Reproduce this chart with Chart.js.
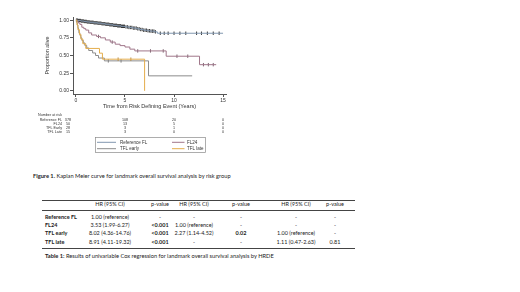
<!DOCTYPE html>
<html><head><meta charset="utf-8">
<script src="https://cdn.jsdelivr.net/npm/chart.js@4"></script>
<style>
html,body{margin:0;padding:0;background:#fff;width:520px;height:292px;overflow:hidden;}
#wrap{position:absolute;left:0;top:0;width:260px;height:160px;}
.t{position:absolute;white-space:nowrap;font-family:Lato,'Liberation Sans',sans-serif;color:#222;line-height:1;font-size:5.7px;}
.cell{font-size:5.5px;}
.c{transform:translate(-50%,-50%);}
.l{transform:translate(0,-50%);}
.rule{position:absolute;left:42px;width:313px;height:0;border-top:1px solid #444;}
b{font-weight:700;}
</style></head>
<body>
<div id="wrap"><canvas id="km" width="260" height="160"></canvas></div>
<div id="doc"></div>
<script>
// ---- Kaplan-Meier data (time in years, survival proportion) ----
const refT  = [0,0.2,0.5,0.8,1.1,1.4,1.8,2.2,2.6,3.0,3.4,3.8,4.2,4.6,5.0,5.4,5.8,6.2,6.5,6.9,7.3,7.6,8.0,8.3,15.0];
const refS  = [1,0.995,0.988,0.982,0.975,0.97,0.963,0.957,0.95,0.942,0.935,0.927,0.92,0.913,0.905,0.897,0.888,0.878,0.868,0.858,0.85,0.845,0.835,0.815,0.815];
const fl24T = [0,0.1,0.25,0.4,0.6,0.8,1.0,1.3,1.6,2.1,2.5,3.0,3.5,4.0,4.5,5.0,5.5,6.0,9.2,12.6,14.3];
const fl24S = [1,0.98,0.96,0.94,0.90,0.88,0.86,0.82,0.79,0.77,0.75,0.72,0.69,0.66,0.64,0.62,0.59,0.565,0.49,0.37,0.37];
const earlyT = [0,0.08,0.15,0.2,0.25,0.3,0.4,0.5,0.6,0.75,0.9,1.1,1.3,1.7,2.0,2.3,2.9,7.4,11.85];
const earlyS = [1,0.964,0.929,0.893,0.857,0.821,0.786,0.75,0.714,0.679,0.643,0.607,0.571,0.536,0.5,0.464,0.424,0.212,0.212];
const lateT = [0,0.1,0.2,0.35,0.5,0.7,1.0,2.4,2.7,7.0];
const lateS = [1,0.933,0.867,0.8,0.733,0.667,0.6,0.533,0.448,0];
// censoring times
const refCens = [0.05,0.15,0.25,0.35,0.45,0.55,0.65,0.75,0.85,0.95,1.05,1.15,1.25,1.35,1.45,1.55,1.65,1.75,1.85,1.95,2.05,2.15,2.25,2.35,2.45,2.55,2.65,2.75,2.85,2.95,3.05,3.15,3.25,3.35,3.45,3.55,3.65,3.75,3.85,3.95,4.05,4.15,4.25,4.35,4.45,4.55,4.65,4.75,4.85,4.95,5.1,5.25,5.4,5.55,5.7,5.85,6.0,6.15,6.3,6.45,6.6,6.75,6.9,7.05,7.2,7.35,7.5,7.65,7.8,7.95,8.1,8.6,9.0,9.4,10.0,10.6,11.2,12.3,12.8,13.4,14.0,14.6];
const fl24Cens = [2.3,3.7,6.3,7.6,8.9,10.3,11.4,13.0,13.5,14.0];
const earlyCens = [3.3,4.6];
const lateCens = [4.3,5.6];
// axis ticks
const xTicks = [0,5,10,15];
const yTicks = [0,0.25,0.5,0.75,1];
// number at risk
const riskTimes = [0,5,10,15];
const riskLabels = ['Reference FL','FL24','TFL Early','TFL Late'];
const riskRef = [378,108,20,0];
const riskFL24 = [50,13,5,0];
const riskEarly = [28,3,1,0];
const riskLate = [15,3,0,0];
// legend / series
const seriesNames = ['Reference FL','FL24','TFL early','TFL late'];
const seriesColors = ['#8197b0','#a0768a','#8c8c8c','#e4ad4c'];

// ---- Table data ----
const tblRows = ['Reference FL','FL24','TFL early','TFL late'];
const tblHeaders = ['HR (95% CI)','p-value','HR (95% CI)','p-value','HR (95% CI)','p-value'];
const hr1 = ['1.00 (reference)','3.53 (1.99-6.27)','8.02 (4.36-14.76)','8.91 (4.11-19.32)'];
const p1  = ['-','<0.001','<0.001','<0.001'];
const hr2 = ['-','1.00 (reference)','2.27 (1.14-4.52)','-'];
const p2  = ['-','-','0.02','-'];
const hr3 = ['-','-','1.00 (reference)','1.11 (0.47-2.63)'];
const p3  = ['-','-','-','0.81'];

function pts(T,S){return T.map((t,i)=>({x:t,y:S[i]}));}
function survAt(T,S,t){let v=S[0];for(let i=0;i<T.length;i++){if(T[i]<=t)v=S[i];}return v;}
function cens(T,S,C){return C.map(t=>({x:t,y:survAt(T,S,t)}));}

const curves = [[refT,refS,refCens],[fl24T,fl24S,fl24Cens],[earlyT,earlyS,earlyCens],[lateT,lateS,lateCens]];
const datasets = [];
curves.forEach((c,i)=>{
  datasets.push({label:seriesNames[i],data:pts(c[0],c[1]),borderColor:seriesColors[i],borderWidth:1,stepped:true,pointRadius:0,fill:false,order:4-i});
});
const censColors = ['#1a1a1a','#6e5562','#666','#b08030'];
curves.forEach((c,i)=>{
  datasets.push({label:seriesNames[i]+' censored',data:cens(c[0],c[1],c[2]),showLine:false,pointStyle:'line',rotation:90,pointRadius:1.7,pointBorderWidth:0.9,borderColor:censColors[i],backgroundColor:censColors[i],order:4-i});
});

const AX='#555';
const overlay={
  id:'overlay',
  afterDraw(chart){
    const ctx=chart.ctx,xs=chart.scales.x;
    ctx.save();
    ctx.fillStyle='#333';
    ctx.textBaseline='middle';
    ctx.font='3.7px "Liberation Sans"';
    ctx.textAlign='left';
    ctx.fillText('Number at risk',38,115);
    const counts=[riskRef,riskFL24,riskEarly,riskLate];
    riskLabels.forEach((g,i)=>{
      const y=119.5+i*4;
      ctx.textAlign='right';ctx.fillText(g,62,y);
      ctx.textAlign='center';
      riskTimes.forEach((t,j)=>ctx.fillText(String(counts[i][j]),xs.getPixelForValue(t)-(t===0?8:0),y));
    });
    // legend
    ctx.strokeStyle='#8a8a8a';ctx.lineWidth=0.7;
    ctx.strokeRect(95.5,137.5,110,15);
    const pos=[[97,116,120,142.3],[172,184.5,187,142.3],[97,116,120,148.7],[172,184.5,187,148.7]];
    ctx.font='4.5px "Liberation Sans"';ctx.textAlign='left';
    seriesNames.forEach((n,i)=>{
      const p=pos[i];
      ctx.strokeStyle=seriesColors[i];ctx.lineWidth=1;
      ctx.beginPath();ctx.moveTo(p[0],p[3]);ctx.lineTo(p[1],p[3]);ctx.stroke();
      ctx.fillStyle='#333';ctx.fillText(n,p[2],p[3]);
    });
    ctx.restore();
  }
};

new Chart(document.getElementById('km'),{
  type:'line',
  data:{datasets},
  plugins:[overlay],
  options:{
    responsive:false,animation:false,devicePixelRatio:1,
    layout:{padding:{left:0,right:34,top:17,bottom:46}},
    plugins:{legend:{display:false},tooltip:{enabled:false}},
    scales:{
      x:{type:'linear',min:-0.3,max:15.3,
        afterBuildTicks:s=>{s.ticks=xTicks.map(v=>({value:v}));},
        afterFit:s=>{s.height=20;},
        grid:{drawOnChartArea:false,drawTicks:true,tickLength:3,color:AX},
        border:{display:true,color:AX,width:1},
        ticks:{padding:0.5,color:'#333',font:{family:'Liberation Sans',size:5},maxRotation:0},
        title:{display:true,text:'Time from Risk Defining Event (Years)',color:'#333',font:{family:'Liberation Sans',size:5.5},padding:{top:0,bottom:4.5}}
      },
      y:{type:'linear',min:-0.045,max:1.045,
        afterBuildTicks:s=>{s.ticks=yTicks.map(v=>({value:v}));},
        afterFit:s=>{s.width=73;},
        grid:{drawOnChartArea:false,drawTicks:true,tickLength:3,color:AX},
        border:{display:true,color:AX,width:1},
        ticks:{padding:1,color:'#333',font:{family:'Liberation Sans',size:5},callback:v=>Number(v).toFixed(2)},
        title:{display:true,text:'Proportion alive',color:'#333',font:{family:'Liberation Sans',size:5.5},padding:{top:43.7,bottom:0}}
      }
    }
  }
});

// ---- Document text & table ----
const doc=document.getElementById('doc');
function add(html,cls,x,y){const d=document.createElement('div');d.className='t '+cls;d.style.left=x+'px';d.style.top=y+'px';d.innerHTML=html;doc.appendChild(d);return d;}
function rule(y){const d=document.createElement('div');d.className='rule';d.style.top=y+'px';doc.appendChild(d);}
add('<b>Figure 1.</b> Kaplan Meier curve for landmark overall survival analysis by risk group','l',33,175.7);
rule(199.5);rule(209.5);rule(247.8);
const colX=[110,160,194,241,296,335];
tblHeaders.forEach((h,j)=>add(h,'cell c',colX[j],204.5));
const cols=[hr1,p1,hr2,p2,hr3,p3];
const rowY=[217.8,226.1,234.4,242.7];
tblRows.forEach((r,i)=>{
  add('<b>'+r+'</b>','cell l',45,rowY[i]);
  cols.forEach((col,j)=>{
    let v=col[i];
    const isP=(j%2===1);
    if(isP && v!=='-' && (v.startsWith('<') || parseFloat(v)<0.05)) v='<b>'+v.replace('<','&lt;')+'</b>';
    else v=v.replace('<','&lt;');
    add(v,'cell c',colX[j],rowY[i]);
  });
});
add('<b>Table 1:</b> Results of univariable Cox regression for landmark overall survival analysis by HRDE','l',45,256);
</script>
</body></html>
